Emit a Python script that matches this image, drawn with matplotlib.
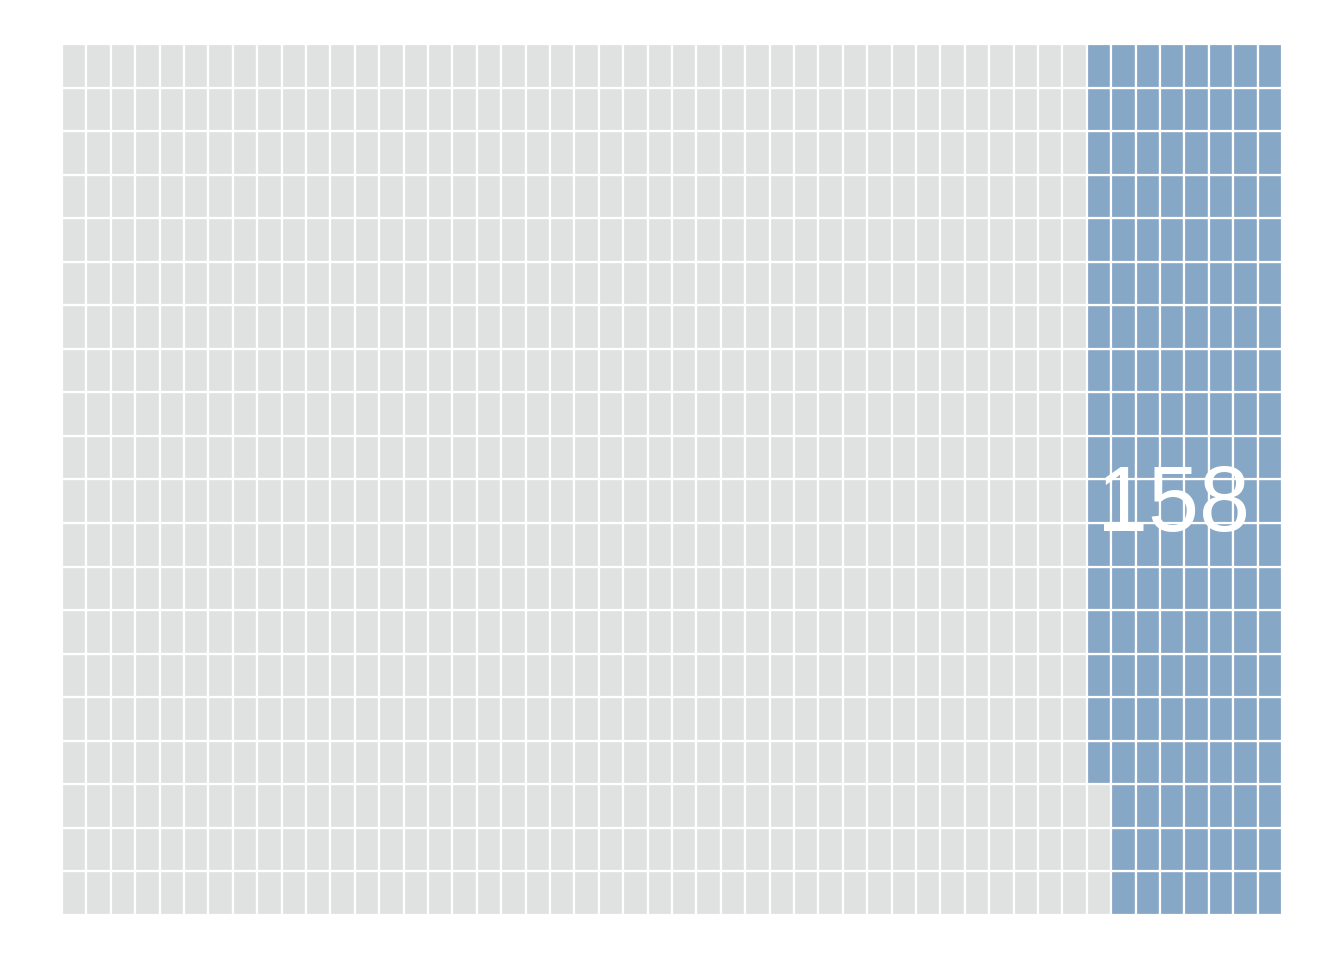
import matplotlib
matplotlib.use('Agg')
import matplotlib.pyplot as plt
from matplotlib.patches import Rectangle
import numpy as np

# waffle grid: 50 columns x 20 rows, filled column by column from the bottom
n_cols = 50
n_rows = 20
groups = ['other', 'highlight']
cell_counts = [843, 157]
label_value = 158
colors = ['#e0e1e1', '#87a7c6']

fig = plt.figure(figsize=(13.44, 9.6), dpi=100)
ax = fig.add_axes([62/1344, 45/960, 1220/1344, 871/960])

kinds = np.repeat(np.arange(len(groups)), cell_counts)
cols = np.arange(n_cols * n_rows) // n_rows
rows = np.arange(n_cols * n_rows) % n_rows

for k, c, r in zip(kinds, cols, rows):
    ax.add_patch(Rectangle((c, r), 1, 1, facecolor=colors[k],
                           edgecolor='white', linewidth=1.6))

# label at the mean position of the highlighted cells
sel = kinds == 1
ax.annotate(str(label_value), (cols[sel].mean(), rows[sel].mean()),
            xytext=(0, -9), textcoords='offset points',
            color='white', fontsize=66, family='Liberation Sans',
            ha='center', va='center')

ax.set_xlim(0, n_cols)
ax.set_ylim(0, n_rows)
ax.axis('off')

plt.savefig('out.png', dpi=100, facecolor='white')
